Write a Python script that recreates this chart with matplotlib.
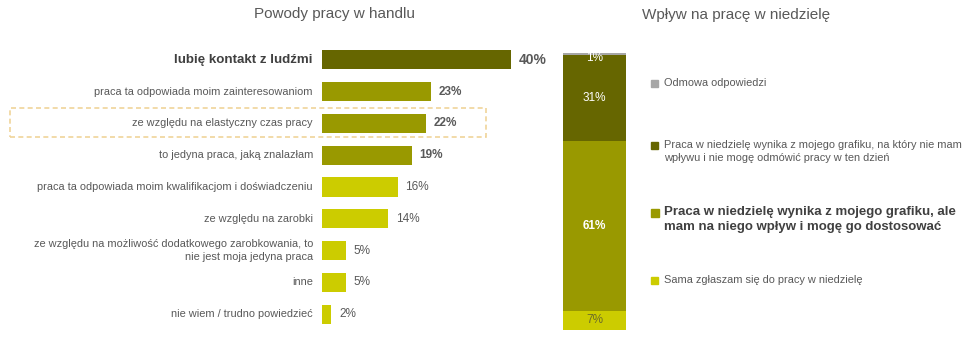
import matplotlib.pyplot as plt
from matplotlib.patches import Rectangle
import numpy as np

plt.rcParams['font.family'] = ['Liberation Sans', 'DejaVu Sans']

# powody pracy w handlu
reasons = ["lubię kontakt z ludźmi",
           "praca ta odpowiada moim zainteresowaniom",
           "ze względu na elastyczny czas pracy",
           "to jedyna praca, jaką znalazłam",
           "praca ta odpowiada moim kwalifikacjom i doświadczeniu",
           "ze względu na zarobki",
           "ze względu na możliwość dodatkowego zarobkowania, to\nnie jest moja jedyna praca",
           "inne",
           "nie wiem / trudno powiedzieć"]
reason_vals = [40, 23, 22, 19, 16, 14, 5, 5, 2]

# wpływ na pracę w niedzielę (od dołu)
sunday_labels = ["Sama zgłaszam się do pracy w niedzielę",
                 "Praca w niedzielę wynika z mojego grafiku, ale\nmam na niego wpływ i mogę go dostosować",
                 "Praca w niedzielę wynika z mojego grafiku, na który nie mam\nwpływu i nie mogę odmówić pracy w ten dzień",
                 "Odmowa odpowiedzi"]
sunday_vals = [7, 61, 31, 1]

DARK = '#666600'
MID = '#999900'
LIGHT = '#cccc00'
GREY = '#a6a6a6'
TXT = '#595959'

W, H = 979, 341
fig = plt.figure(figsize=(W / 100, H / 100), dpi=100)

def fx(px):
    return px / W

def fy(py):
    return 1 - py / H

# ---- lewy wykres
ax = fig.add_axes([fx(322), fy(330), fx(560 - 322), (330 - 44) / H])
colors = [DARK, MID, MID, MID, LIGHT, LIGHT, LIGHT, LIGHT, LIGHT]
y = np.arange(len(reasons))
ax.barh(y, reason_vals, height=0.6, color=colors)
ax.set_xlim(0, (560 - 322) / 4.72)
ax.set_ylim(len(reasons) - 0.5, -0.5)
ax.axis('off')

for i, (lab, v) in enumerate(zip(reasons, reason_vals)):
    if i == 0:
        ax.text(-9 / 4.72, i, lab, ha='right', va='center', fontsize=9.6,
                fontweight='bold', color='#404040')
    else:
        ax.text(-9 / 4.72, i, lab, ha='right', va='center', fontsize=7.9,
                color=TXT, linespacing=1.45)
    bold = i < 4
    ax.text(v + 8 / 4.72, i, f"{v}%", ha='left', va='center',
            fontsize=10 if i == 0 else 8.5,
            fontweight='bold' if bold else 'normal', color=TXT)

fig.text(fx(334), fy(14), "Powody pracy w handlu", ha='center', va='center',
         fontsize=11, color=TXT)

# ramka wokół "elastyczny czas pracy"
fig.patches.append(Rectangle((fx(10), fy(137)), fx(486 - 10), (137 - 108) / H,
                             transform=fig.transFigure, fill=False,
                             edgecolor='#f0d49a', linestyle=(0, (3, 2)), lw=1.2))

# ---- prawy wykres (słupek skumulowany)
ax2 = fig.add_axes([fx(563), fy(330), fx(626 - 563), (330 - 52.7) / H])
seg_colors = [LIGHT, MID, DARK, GREY]
bottom = 0
for v, c in zip(sunday_vals, seg_colors):
    ax2.bar(0, v, bottom=bottom, width=1, color=c)
    bottom += v
ax2.set_xlim(-0.5, 0.5)
ax2.set_ylim(0, sum(sunday_vals))
ax2.axis('off')

bottom = 0
lab_colors = ['#6b6b2a', 'white', 'white', 'white']
lab_weight = ['normal', 'bold', 'normal', 'normal']
for v, c, w in zip(sunday_vals, lab_colors, lab_weight):
    yc = bottom + v / 2
    if v < 3:
        yc = bottom - 0.8
    ax2.text(0, yc, f"{v}%", ha='center', va='center', color=c,
             fontsize=8.5, fontweight=w)
    bottom += v

fig.text(fx(736), fy(15), "Wpływ na pracę w niedzielę", ha='center', va='center',
         fontsize=11, color=TXT)

# legenda
leg_y = [280, 213, 145, 83]
leg_size = [7.9, 9.5, 7.9, 7.9]
leg_weight = ['normal', 'bold', 'normal', 'normal']
leg_color = [TXT, '#404040', TXT, TXT]
for lab, c, ly, fs, fw, tc in zip(sunday_labels, seg_colors, leg_y, leg_size,
                                  leg_weight, leg_color):
    s = 8 if fw == 'bold' else 7
    fig.patches.append(Rectangle((fx(655 - s / 2), fy(ly + s / 2)), s / W, s / H,
                                 transform=fig.transFigure, color=c))
    fig.text(fx(664), fy(ly - 5 if fw == 'normal' else ly - 7), lab, ha='left', va='top',
             fontsize=fs, fontweight=fw, color=tc, linespacing=1.35)

fig.savefig('out.png', dpi=100)
